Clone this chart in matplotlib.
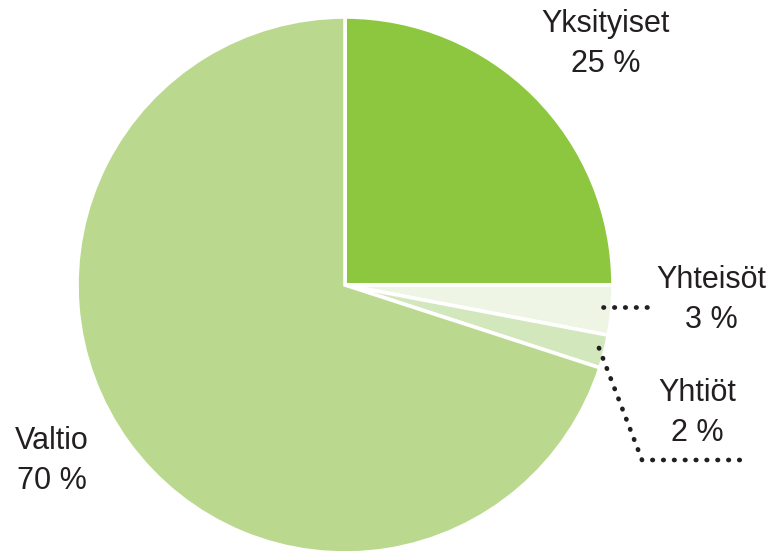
import matplotlib.pyplot as plt

labels = ["Yksityiset", "Yhteisöt", "Yhtiöt", "Valtio"]
shares = [25, 3, 2, 70]
colors = ["#8dc63f", "#eef5e5", "#d3e7bd", "#bad98e"]

W, H = 776, 551
plt.rcParams['font.family'] = ['Liberation Sans', 'DejaVu Sans']

fig = plt.figure(figsize=(W / 100, H / 100), dpi=100)
ax = fig.add_axes([0, 0, 1, 1])


def py(y):
    # image y (from top) -> axes y
    return H - y


ax.pie(shares, colors=colors, startangle=90, counterclock=False,
       center=(345, py(285)), radius=268, frame=True,
       wedgeprops=dict(edgecolor='white', linewidth=2.6))
ax.set_xlim(0, W)
ax.set_ylim(0, H)
ax.set_aspect('equal')
ax.axis('off')

# labels
txt = dict(fontsize=22, color='#231f20', ha='center', va='center', linespacing=1.45)
ax.text(606, py(44), f"{labels[0]}\n{shares[0]} %", **txt)
ax.text(711, py(300), f"{labels[1]}\n{shares[1]} %", **txt)
ax.text(697, py(413), f"{labels[2]}\n{shares[2]} %", **txt)
ax.text(52, py(461), f"{labels[3]}\n{shares[3]} %", **txt)

# leader lines
dot = dict(color='#231f20', linestyle=(0, (0.1, 2.2)), linewidth=3.4,
           dash_capstyle='round', solid_capstyle='round')
ax.plot([603, 650], [py(307), py(307)], **dot)
ax.plot([599, 642, 742], [py(348), py(460), py(460)], **dot)

fig.savefig("out.png", dpi=100)
